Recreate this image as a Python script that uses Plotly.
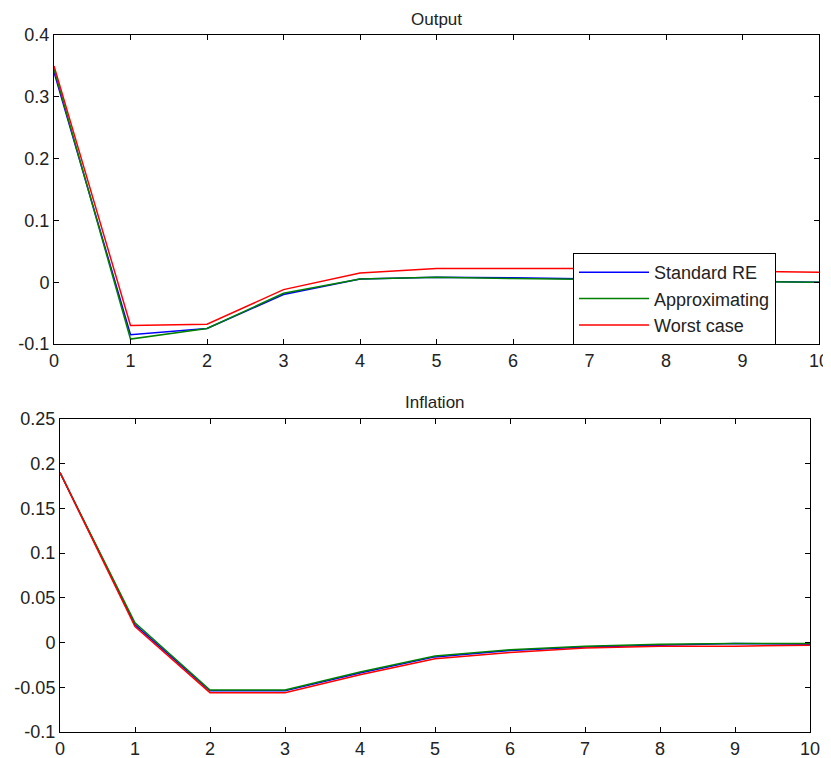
import plotly.graph_objects as go

# The page body has an 8px margin, so the figure is drawn 8px right/down of the window
# corner; layout pixel positions below are given in window pixels and shifted by OFF.
W, H = 823, 750
OFF = 8

periods = list(range(11))

output_std = [0.340, -0.085, -0.075, -0.020, 0.005, 0.008, 0.007, 0.005, 0.003, 0.001, 0.000]
output_app = [0.345, -0.092, -0.075, -0.018, 0.005, 0.008, 0.006, 0.005, 0.003, 0.001, 0.000]
output_wc  = [0.350, -0.070, -0.068, -0.012, 0.015, 0.022, 0.022, 0.022, 0.020, 0.018, 0.016]

infl_std = [0.190, 0.020, -0.054, -0.054, -0.034, -0.016, -0.009, -0.005, -0.003, -0.001, -0.002]
infl_app = [0.190, 0.022, -0.053, -0.053, -0.033, -0.015, -0.008, -0.004, -0.002, -0.001, -0.001]
infl_wc  = [0.190, 0.018, -0.056, -0.056, -0.036, -0.018, -0.011, -0.006, -0.004, -0.004, -0.003]

out_ticks = [-0.1, 0, 0.1, 0.2, 0.3, 0.4]
out_ticktext = ["-0.1", "0", "0.1", "0.2", "0.3", "0.4"]
inf_ticks = [-0.1, -0.05, 0, 0.05, 0.1, 0.15, 0.2, 0.25]
inf_ticktext = ["-0.1", "-0.05", "0", "0.05", "0.1", "0.15", "0.2", "0.25"]

names = ["Standard RE", "Approximating", "Worst case"]
colors = ["#0000ff", "#008000", "#ff0000"]

FONT = "Liberation Sans, Arial"
TXT = "#222"


def px_x(x):
    return (x - OFF) / W


def px_y(y):
    return 1 - (y - OFF) / H


fig = go.Figure()
for vals, name, col in zip([output_std, output_app, output_wc], names, colors):
    fig.add_trace(go.Scatter(x=periods, y=vals, mode="lines", name=name,
                             line=dict(color=col, width=1.5), xaxis="x", yaxis="y"))
for vals, name, col in zip([infl_std, infl_app, infl_wc], names, colors):
    fig.add_trace(go.Scatter(x=periods, y=vals, mode="lines", name=name, showlegend=False,
                             line=dict(color=col, width=1.5), xaxis="x2", yaxis="y2"))

axis_common = dict(showline=True, linecolor="black", linewidth=1, mirror="ticks",
                   ticks="inside", ticklen=5, tickcolor="black", showgrid=False,
                   zeroline=False, automargin=False,
                   tickfont=dict(family=FONT, size=18, color=TXT))

fig.update_layout(
    width=W, height=H,
    margin=dict(l=0, r=0, t=0, b=0),
    paper_bgcolor="white", plot_bgcolor="white",
    xaxis=dict(domain=[px_x(54), px_x(819)], range=[0, 10], tickvals=periods, anchor="y", **axis_common),
    yaxis=dict(domain=[px_y(344), px_y(35)], range=[-0.1, 0.4], tickvals=out_ticks,
               ticktext=out_ticktext, anchor="x", **axis_common),
    xaxis2=dict(domain=[px_x(60), px_x(810)], range=[0, 10], tickvals=periods, anchor="y2", **axis_common),
    yaxis2=dict(domain=[px_y(732), px_y(419)], range=[-0.1, 0.25], tickvals=inf_ticks,
                ticktext=inf_ticktext, anchor="x2", **axis_common),
    legend=dict(x=px_x(573), y=px_y(253), xanchor="left", yanchor="top",
                bgcolor="white", bordercolor="black", borderwidth=1,
                font=dict(family=FONT, size=18, color=TXT),
                itemwidth=70, tracegroupgap=0),
    showlegend=True,
    annotations=[
        dict(text="Output", x=px_x((54 + 819) / 2), y=px_y(19), xref="paper", yref="paper",
             xanchor="center", yanchor="middle",
             showarrow=False, font=dict(family=FONT, size=17, color=TXT)),
        dict(text="Inflation", x=px_x((60 + 810) / 2), y=px_y(402), xref="paper", yref="paper",
             xanchor="center", yanchor="middle",
             showarrow=False, font=dict(family=FONT, size=17, color=TXT)),
    ],
)

fig.write_html("out.html")
